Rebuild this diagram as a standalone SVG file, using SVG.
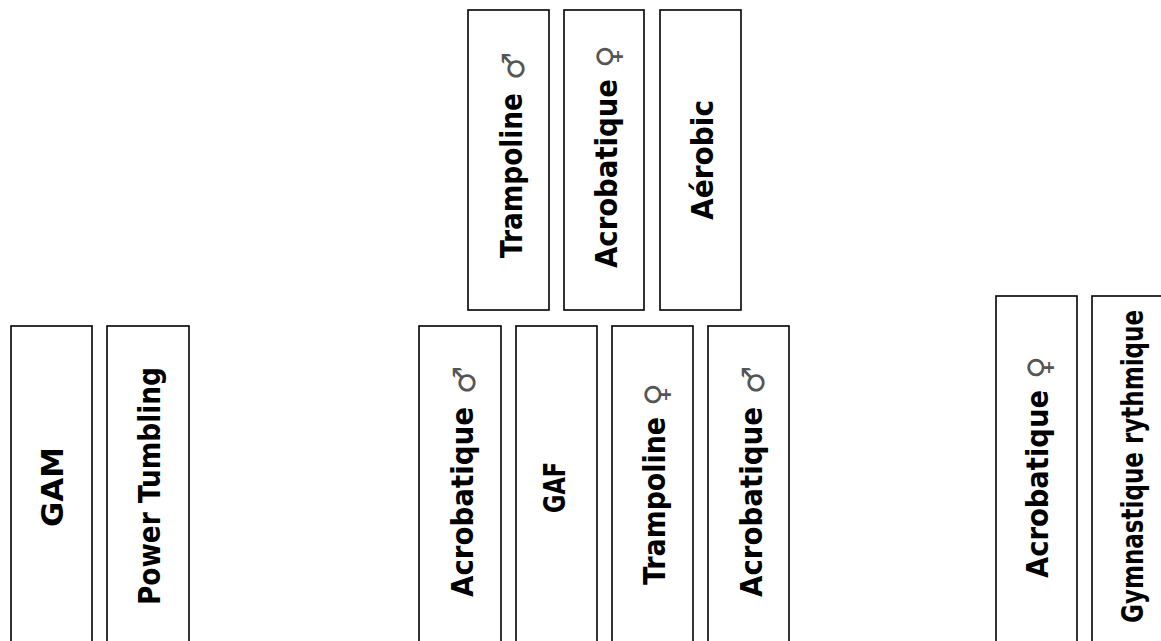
<svg xmlns="http://www.w3.org/2000/svg" width="1161" height="641" viewBox="0 0 1161 641">
<style>
.box{fill:#fff;stroke:#000;stroke-width:1.6}
.lbl{font-family:"DejaVu Sans","Liberation Sans",sans-serif;font-weight:bold;font-size:30px;fill:#000}
.sym{font-family:"DejaVu Sans","Noto Sans",sans-serif;font-weight:normal;font-size:31px;fill:#555}
</style>
<rect width="1161" height="641" fill="#fff"/>
<g id="connectors"></g>
<g id="n-gam"><rect class="box" x="11" y="326" width="81" height="330"/>
<text class="lbl" transform="translate(63,527) rotate(-90)" textLength="80" lengthAdjust="spacingAndGlyphs">GAM</text></g>
<g id="n-power"><rect class="box" x="107" y="326" width="82" height="330"/>
<text class="lbl" transform="translate(160,605) rotate(-90)" textLength="238" lengthAdjust="spacingAndGlyphs">Power Tumbling</text></g>
<g id="n-tramp-m-top"><rect class="box" x="468" y="10" width="81" height="300"/>
<text class="lbl" transform="translate(522,258) rotate(-90)" textLength="165" lengthAdjust="spacingAndGlyphs">Trampoline</text>
<text class="sym" transform="translate(524,80) rotate(-90)">♂</text></g>
<g id="n-acro-f-top"><rect class="box" x="564" y="10" width="80" height="300"/>
<text class="lbl" transform="translate(617,268) rotate(-90)" textLength="189" lengthAdjust="spacingAndGlyphs">Acrobatique</text>
<text class="sym" transform="translate(619,68) rotate(-90)">♀</text></g>
<g id="n-aerobic"><rect class="box" x="660" y="10" width="81" height="300"/>
<text class="lbl" transform="translate(713,220) rotate(-90)" textLength="120" lengthAdjust="spacingAndGlyphs">Aérobic</text></g>
<g id="n-acro-m-1"><rect class="box" x="419" y="326" width="82" height="330"/>
<text class="lbl" transform="translate(473,597) rotate(-90)" textLength="190" lengthAdjust="spacingAndGlyphs">Acrobatique</text>
<text class="sym" transform="translate(475,394) rotate(-90)">♂</text></g>
<g id="n-gaf"><rect class="box" x="516" y="326" width="81" height="330"/>
<text class="lbl" transform="translate(565,513) rotate(-90)" textLength="51" lengthAdjust="spacingAndGlyphs">GAF</text></g>
<g id="n-tramp-f"><rect class="box" x="612" y="326" width="81" height="330"/>
<text class="lbl" transform="translate(665,585) rotate(-90)" textLength="168" lengthAdjust="spacingAndGlyphs">Trampoline</text>
<text class="sym" transform="translate(667,406) rotate(-90)">♀</text></g>
<g id="n-acro-m-2"><rect class="box" x="708" y="326" width="81" height="330"/>
<text class="lbl" transform="translate(762,597) rotate(-90)" textLength="190" lengthAdjust="spacingAndGlyphs">Acrobatique</text>
<text class="sym" transform="translate(764,394) rotate(-90)">♂</text></g>
<g id="n-acro-f-right"><rect class="box" x="996" y="296" width="81" height="360"/>
<text class="lbl" transform="translate(1048,578) rotate(-90)" textLength="188" lengthAdjust="spacingAndGlyphs">Acrobatique</text>
<text class="sym" transform="translate(1050,379) rotate(-90)">♀</text></g>
<g id="n-gr"><rect class="box" x="1092" y="296" width="81" height="360"/>
<text class="lbl" transform="translate(1143,623) rotate(-90)" textLength="313" lengthAdjust="spacingAndGlyphs">Gymnastique rythmique</text></g>
</svg>
